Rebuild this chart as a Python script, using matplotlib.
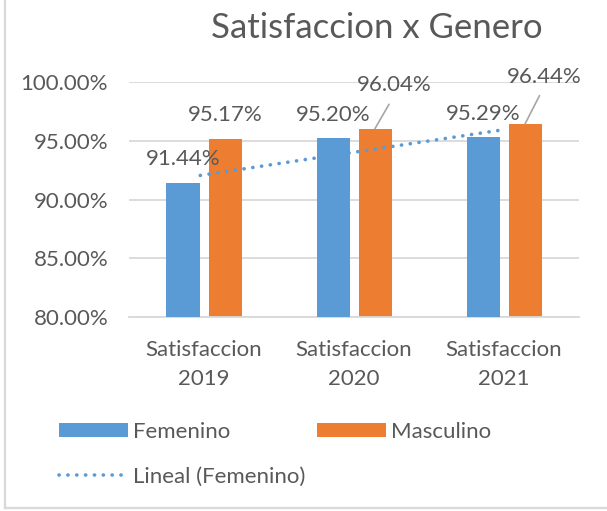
import numpy as np
import matplotlib
matplotlib.use("Agg")
from matplotlib import pyplot as plt
from matplotlib.lines import Line2D

categories = ["Satisfaccion\n2019", "Satisfaccion\n2020", "Satisfaccion\n2021"]
femenino = [91.44, 95.20, 95.29]
masculino = [95.17, 96.04, 96.44]
yticks = [80, 85, 90, 95, 100]

BLUE = "#5B9BD5"
ORANGE = "#ED7D31"
TEXT = "#595959"
GRID = "#D9D9D9"
FS = 16

plt.rcParams["font.family"] = ["Lato", "DejaVu Sans"]

fig = plt.figure(figsize=(6.07, 5.11), dpi=100)
ax = fig.add_axes([0.2125, 0.3796, 0.7415, 0.4599])

x = np.arange(len(categories))
w = 0.22
off = 0.14
bars_f = ax.bar(x - off, femenino, w, color=BLUE, zorder=4, label="Femenino")
bars_m = ax.bar(x + off, masculino, w, color=ORANGE, zorder=2, label="Masculino")

# linear trendline of Femenino
k, b = np.polyfit(x + 1, femenino, 1)
tx = np.array([x[0], x[-1]]) - 0.025
ty = k * (np.array([x[0], x[-1]]) + 1) + b
trend, = ax.plot(tx, ty, color=BLUE, lw=2.6, linestyle=(0, (0.05, 2.4)),
                 dash_capstyle="round", zorder=3, label="Lineal (Femenino)")

ax.set_ylim(80, 100)
ax.set_xlim(-0.5, 2.5)
ax.set_yticks(yticks)
ax.set_yticklabels([f"{v:.2f}%" for v in yticks])
ax.set_xticks(x)
ax.set_xticklabels(categories, linespacing=1.55)
ax.tick_params(axis="both", length=0, colors=TEXT, labelsize=FS)
ax.tick_params(axis="y", pad=15)
ax.tick_params(axis="x", pad=16.5)
for s in ["top", "right", "left"]:
    ax.spines[s].set_visible(False)
ax.spines["bottom"].set_color(GRID)
ax.spines["bottom"].set_linewidth(1.3)
ax.grid(axis="y", color=GRID, lw=1.3, zorder=0)
ax.set_axisbelow(True)

# data labels
for xi, v in zip(x - off, femenino):
    ax.annotate(f"{v:.2f}%", (xi, v), xytext=(0, 17), textcoords="offset points",
                ha="center", va="center", fontsize=FS, color=TEXT)
lead = {1: (13.7, 31), 2: (13.7, 34)}
for i, (xi, v) in enumerate(zip(x + off, masculino)):
    if i in lead:
        ax.annotate(f"{v:.2f}%", (xi, v), xytext=lead[i], textcoords="offset points",
                    ha="center", va="center", fontsize=FS, color=TEXT,
                    arrowprops=dict(arrowstyle="-", color="#A6A6A6", lw=1.2,
                                    relpos=(0.5, 0.0), shrinkA=5, shrinkB=0))
    else:
        ax.annotate(f"{v:.2f}%", (xi, v), xytext=(0, 17), textcoords="offset points",
                    ha="center", va="center", fontsize=FS, color=TEXT)

fig.text(377 / 607, 1 - 28 / 511, "Satisfaccion x Genero", ha="center", va="center",
         fontsize=25, color=TEXT)

handles = [bars_f, trend, bars_m]
labels = ["Femenino", "Lineal (Femenino)", "Masculino"]
leg = fig.legend(handles, labels, ncol=2, loc="upper left",
                 bbox_to_anchor=(39 / 607, 1 - 402 / 511), frameon=False,
                 fontsize=FS, handlelength=3.1, handleheight=0.62,
                 handletextpad=0.25, columnspacing=0.5, labelspacing=1.1)
for t in leg.get_texts():
    t.set_color(TEXT)

# chart border (left and bottom visible in the crop)
fig.add_artist(Line2D([5 / 607, 5 / 607], [1, 1 - 508 / 511], transform=fig.transFigure,
                      color=GRID, lw=1.6))
fig.add_artist(Line2D([5 / 607, 1], [1 - 508 / 511, 1 - 508 / 511], transform=fig.transFigure,
                      color=GRID, lw=1.6))

fig.savefig("out.png", dpi=100, facecolor="white")
